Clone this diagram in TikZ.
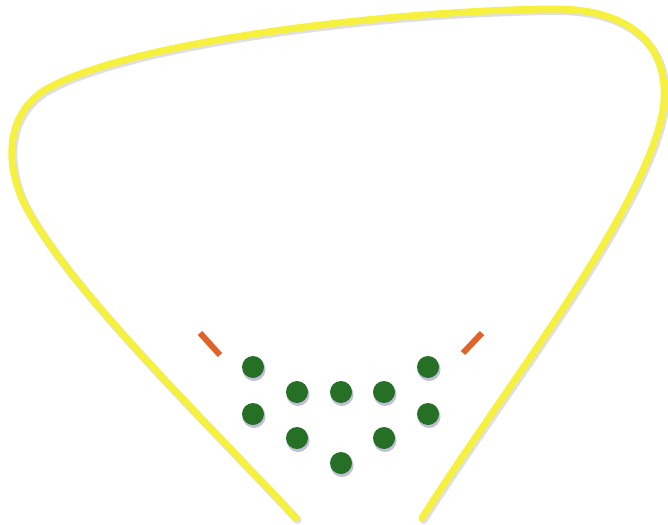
\documentclass[tikz,border=0pt]{standalone}
\definecolor{rimyellow}{RGB}{246,240,62}
\definecolor{dotgreen}{RGB}{38,112,38}
\definecolor{tickorange}{RGB}{224,100,42}
\tikzset{
	rim/.style={line width=7pt, color=rimyellow, line cap=round},
	rimshadow/.style={line width=8pt, color=black!12, line cap=round},
	tick/.style={line width=6pt, color=tickorange}
}
\newcommand{\rimpath}{(296,518) .. controls (200,415) and (70,290) .. (25,205)
		.. controls (5,165) and (5,115) .. (45,90)
		.. controls (130,40) and (400,10) .. (555,9)
		.. controls (630,9) and (672,45) .. (663,110)
		.. controls (645,210) and (510,380) .. (422,518)}
\begin{document}
\begin{tikzpicture}[x=1pt, y=-1pt]
	\useasboundingbox (0,0) rectangle (668,524);
	% outline, open at the bottom
	\draw[rimshadow, xshift=1.5pt, yshift=-2pt] \rimpath;
	\draw[rim] \rimpath;
	% orange ticks
	\draw[tick] (200,333) -- (220,355);
	\draw[tick] (482,333) -- (463,353);
	% green dots
	\foreach \x/\y in {253/367, 428/367, 297/392, 341/392, 384/392, 253/414, 428/414, 297/438, 384/438, 341/463} {
		\fill[blue!40!black, opacity=0.25] (\x+1,\y+2.5) circle (11.5pt);
		\fill[dotgreen] (\x,\y) circle (11pt);
	}
\end{tikzpicture}
\end{document}
